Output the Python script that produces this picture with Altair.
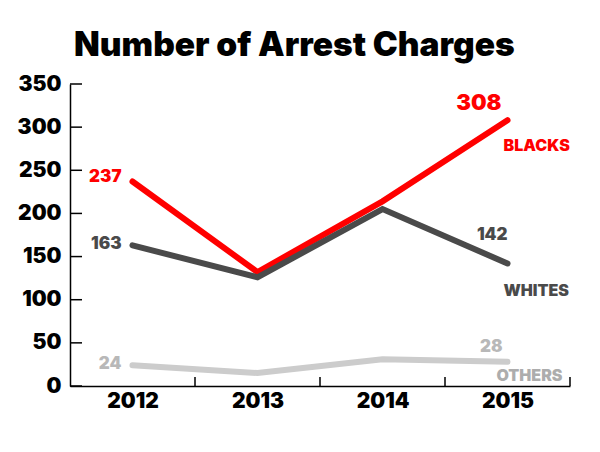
import altair as alt
import pandas as pd

years = [2012, 2013, 2014, 2015]
series_names = ["BLACKS", "WHITES", "OTHERS"]
blacks = [237, 132, 214, 308]
whites = [163, 126, 205, 142]
others = [24, 15, 31, 28]
y_ticks = [0, 50, 100, 150, 200, 250, 300, 350]
x_tick_bounds = [2012.5, 2013.5, 2014.5, 2015.5]

line_colors = ["#ff0000", "#4a4a4a", "#cccccc"]
value_colors = ["#ff0000", "#4a4a4a", "#b8b8b8"]
name_colors = ["#ff0000", "#4a4a4a", "#adadad"]

rows = []
for name, vals in zip(series_names, [blacks, whites, others]):
    for yr, v in zip(years, vals):
        rows.append({"series": name, "year": yr, "value": v})
df = pd.DataFrame(rows)

W, H = 500, 302
FONT = "Inter"

x_enc = alt.X(
    "year:Q",
    scale=alt.Scale(domain=[2011.5, 2015.5], nice=False, zero=False),
    axis=alt.Axis(values=years, format="d", title=None, ticks=False, grid=False,
                  labelFont=FONT, labelFontWeight=900, labelFontSize=21,
                  labelColor="#000000", labelPadding=4,
                  domainColor="#000000", domainWidth=1.5),
)
y_enc = alt.Y(
    "value:Q",
    scale=alt.Scale(domain=[0, 350], nice=False, zero=True),
    axis=alt.Axis(values=y_ticks, title=None, ticks=False, grid=False,
                  labelFont=FONT, labelFontWeight=900, labelFontSize=21,
                  labelColor="#000000", labelPadding=9,
                  domainColor="#000000", domainWidth=1.5),
)

base = alt.Chart(df)

lines = base.mark_line(strokeWidth=6, strokeCap="round", strokeJoin="miter").encode(
    x=x_enc, y=y_enc,
    color=alt.Color("series:N", scale=alt.Scale(domain=series_names, range=line_colors), legend=None),
)

y_tick_layer = alt.Chart(pd.DataFrame({"value": y_ticks})).mark_rule(
    color="#000000", strokeWidth=1.5
).encode(y="value:Q", x=alt.value(0), x2=alt.value(12))

x_tick_layer = alt.Chart(pd.DataFrame({"year": x_tick_bounds})).mark_rule(
    color="#000000", strokeWidth=1.5
).encode(x="year:Q", y=alt.value(H), y2=alt.value(H - 9))


def label(series, year, field, color, size, align, dx, dy):
    return base.transform_filter(
        (alt.datum.series == series) & (alt.datum.year == year)
    ).mark_text(
        font=FONT, fontWeight=900, fontSize=size, color=color,
        align=align, baseline="alphabetic", dx=dx, dy=dy,
    ).encode(x="year:Q", y="value:Q", text=field)


labels = [
    # 2012 values
    label("BLACKS", 2012, "value:Q", value_colors[0], 17, "right", -11, 0),
    label("WHITES", 2012, "value:Q", value_colors[1], 17, "right", -11, 4),
    label("OTHERS", 2012, "value:Q", value_colors[2], 17, "right", -11, 4),
    # 2015 values
    label("BLACKS", 2015, "value:Q", value_colors[0], 22, "right", -6, -10),
    label("WHITES", 2015, "value:Q", value_colors[1], 17, "right", 0, -23),
    label("OTHERS", 2015, "value:Q", value_colors[2], 17, "right", -5, -10),
    # series names
    label("BLACKS", 2015, "series:N", name_colors[0], 16, "left", -4, 31),
    label("WHITES", 2015, "series:N", name_colors[1], 16, "left", -4, 33),
    label("OTHERS", 2015, "series:N", name_colors[2], 16, "left", -11, 19),
]

chart = alt.layer(lines, y_tick_layer, x_tick_layer, *labels).properties(
    width=W, height=H,
    title=alt.TitleParams(
        "Number of Arrest Charges", anchor="start", frame="group", dx=4,
        offset=19, dy=35, baseline="alphabetic", font=FONT, fontWeight=900,
        fontSize=33.5, color="#000000",
    ),
    autosize=alt.AutoSizeParams(type="none"),
    padding={"left": 62, "top": 76, "right": 22, "bottom": 50},
).configure_view(stroke=None)

chart.save("out.html", embed_options={"renderer": "svg", "actions": False})
